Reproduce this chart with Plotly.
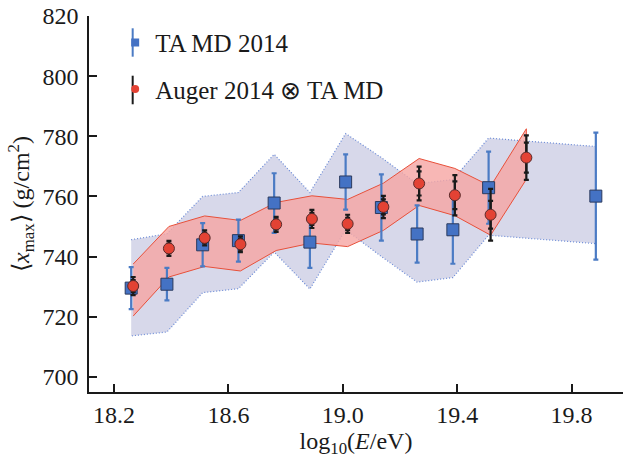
import plotly.graph_objects as go

# TA MD 2014 data
ta_x = [18.26, 18.385, 18.51, 18.635, 18.76, 18.885, 19.01, 19.135, 19.26, 19.385, 19.51, 19.885]
ta_y = [729.5, 730.8, 743.9, 745.3, 757.8, 744.8, 764.8, 756.3, 747.5, 748.9, 762.9, 760.1]
ta_err = [7.0, 5.4, 7.2, 7.0, 9.9, 8.6, 9.2, 11.0, 9.5, 11.3, 12.0, 21.1]
ta_band_up = [745.6, 747.6, 760.0, 761.3, 774.0, 761.3, 780.9, 772.9, 764.2, 765.6, 779.4, 776.6]
ta_band_lo = [713.6, 714.9, 728.0, 729.3, 741.5, 729.2, 748.9, 740.0, 731.5, 733.0, 747.1, 744.3]

# Auger 2014 (x) TA MD data
au_x = [18.267, 18.392, 18.517, 18.642, 18.767, 18.892, 19.017, 19.142, 19.267, 19.392, 19.517, 19.642]
au_y = [730.2, 742.7, 746.2, 744.1, 750.7, 752.5, 750.9, 756.5, 764.3, 760.4, 753.9, 772.9]
au_tot = [3.0, 2.5, 2.5, 2.6, 2.5, 3.0, 3.0, 3.7, 5.6, 6.7, 8.6, 7.4]
au_stat = [2.0, 1.6, 1.7, 1.8, 1.7, 2.0, 2.0, 2.5, 4.0, 4.6, 4.6, 5.0]
au_band_up = [737.5, 750.0, 753.5, 752.0, 758.0, 760.2, 759.0, 764.4, 772.6, 769.3, 763.4, 782.5]
au_band_lo = [720.2, 733.2, 736.7, 735.2, 742.0, 744.5, 743.3, 748.7, 757.0, 753.6, 747.1, 765.7]

x_ticks = [18.2, 18.6, 19.0, 19.4, 19.8]
x_ticklabels = ["18.2", "18.6", "19.0", "19.4", "19.8"]
y_ticks = [700, 720, 740, 760, 780, 800, 820]

SERIF = "Liberation Serif, Times New Roman, serif"
BLUE = "#4472c4"
BLUE_ERR = "#4b7bc4"
RED = "#e34234"
DARK = "#1a1a1a"

fig = go.Figure()

# TA MD systematic band
fig.add_trace(go.Scatter(
    x=ta_x + ta_x[::-1], y=ta_band_up + ta_band_lo[::-1],
    fill="toself", fillcolor="#d7d8ea", mode="lines",
    line=dict(color="#6a8ad6", width=1.2, dash="1px,2px"),
    showlegend=False, hoverinfo="skip"))

# Combined band
fig.add_trace(go.Scatter(
    x=au_x + au_x[::-1], y=au_band_up + au_band_lo[::-1],
    fill="toself", fillcolor="rgba(246,165,163,0.8)", mode="lines",
    line=dict(color="#e8503a", width=1),
    showlegend=False, hoverinfo="skip"))

# TA MD points
fig.add_trace(go.Scatter(
    x=ta_x, y=ta_y, mode="markers", showlegend=False,
    marker=dict(symbol="square", size=12, color=BLUE,
                line=dict(color="#2b3a5e", width=1)),
    error_y=dict(type="data", array=ta_err, color=BLUE_ERR,
                 thickness=2.2, width=2.5)))

# Auger total errors
fig.add_trace(go.Scatter(
    x=au_x, y=au_y, mode="markers", showlegend=False,
    marker=dict(size=1, color="rgba(0,0,0,0)"),
    error_y=dict(type="data", array=au_tot, color=DARK,
                 thickness=2.2, width=2.5),
    hoverinfo="skip"))
# Auger stat errors (inner ticks)
fig.add_trace(go.Scatter(
    x=au_x, y=au_y, mode="markers", showlegend=False,
    marker=dict(size=1, color="rgba(0,0,0,0)"),
    error_y=dict(type="data", array=au_stat, color=DARK,
                 thickness=2.2, width=2.5),
    hoverinfo="skip"))
# Auger points
fig.add_trace(go.Scatter(
    x=au_x, y=au_y, mode="markers", showlegend=False,
    marker=dict(symbol="circle", size=11, color=RED,
                line=dict(color="#5a2a2a", width=1))))

# Legend entries
fig.add_trace(go.Scatter(
    x=[None], y=[None], mode="markers", name="TA MD 2014", legendgroup="ta",
    marker=dict(symbol="square", size=8, color=BLUE)))
fig.add_trace(go.Scatter(
    x=[None], y=[None], mode="markers", name="Auger 2014 \u2297 TA MD",
    legendgroup="au", marker=dict(symbol="circle", size=8, color=RED)))

# error-bar strokes of the legend glyphs
legend_bar_x = 0.0818
shapes = [
    dict(type="line", xref="paper", yref="paper", x0=legend_bar_x, x1=legend_bar_x,
         y0=0.8918, y1=0.9673, line=dict(color=BLUE_ERR, width=2)),
    dict(type="line", xref="paper", yref="paper", x0=legend_bar_x, x1=legend_bar_x,
         y0=0.7652, y1=0.8412, line=dict(color=DARK, width=2)),
]

fig.update_layout(
    width=623, height=460,
    margin=dict(l=89, r=0, t=16, b=68),
    paper_bgcolor="white", plot_bgcolor="white",
    font=dict(family=SERIF, size=24, color=DARK),
    showlegend=True,
    shapes=shapes,
    legend=dict(x=0.049, y=0.99, xanchor="left", yanchor="top",
                bgcolor="rgba(0,0,0,0)", font=dict(family=SERIF, size=25),
                traceorder="grouped", tracegroupgap=11),
    xaxis=dict(range=[18.1125, 19.98], tickvals=x_ticks, ticktext=x_ticklabels,
               ticks="inside", ticklen=8, tickwidth=1.5, tickcolor=DARK,
               showline=True, linecolor=DARK, linewidth=1.5,
               showgrid=False, zeroline=False,
               tickfont=dict(family=SERIF, size=24),
               title=dict(text="log<sub>10</sub>(<i>E</i>/eV)",
                          font=dict(family=SERIF, size=24), standoff=4)),
    yaxis=dict(range=[694.95, 820], tickvals=y_ticks,
               ticks="inside", ticklen=8, tickwidth=1.5, tickcolor=DARK,
               showline=True, linecolor=DARK, linewidth=1.5,
               showgrid=False, zeroline=False, ticklabelstandoff=4,
               tickfont=dict(family=SERIF, size=24),
               title=dict(text="\u27e8<i>x</i><sub>max</sub>\u27e9 (g/cm<sup>2</sup>)",
                          font=dict(family=SERIF, size=24), standoff=6)),
)

fig.write_html("out.html")
